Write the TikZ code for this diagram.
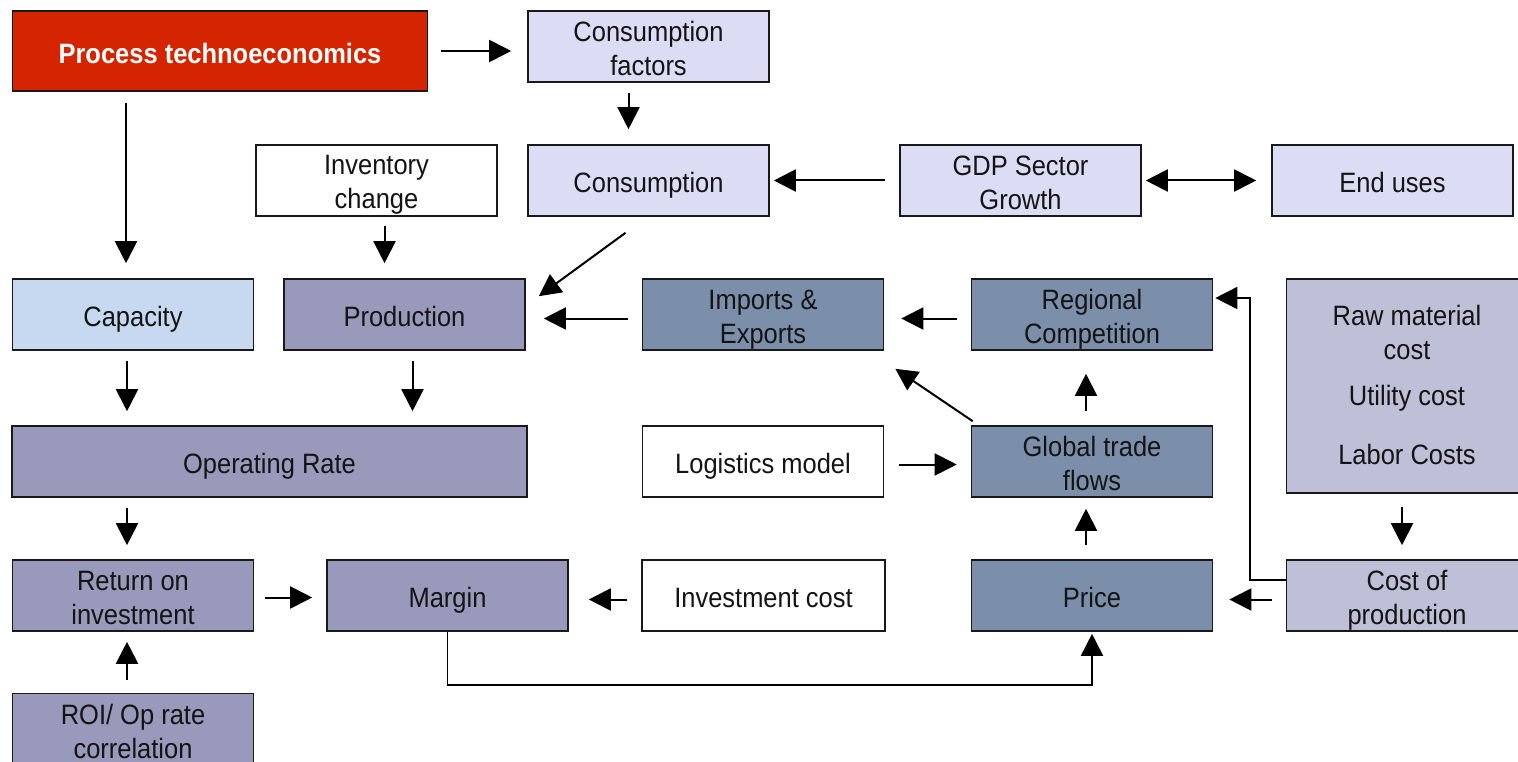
\documentclass[tikz,border=0pt]{standalone}
\usepackage{fontspec}
\setmainfont{Liberation Sans}[FakeStretch=0.91]
\usetikzlibrary{arrows.meta,calc}
\definecolor{cred}{RGB}{212,37,0}
\definecolor{clav}{RGB}{220,220,244}
\definecolor{cblue}{RGB}{198,217,241}
\definecolor{cpurp}{RGB}{153,153,187}
\definecolor{cslate}{RGB}{123,143,171}
\definecolor{cgrey}{RGB}{191,191,215}
\definecolor{cline}{RGB}{25,25,25}
\newcommand{\bt}[2][-5.5pt]{\raisebox{#1}[\height][\depth]{\begin{tabular}{@{}c@{}}#2\end{tabular}}}
\tikzset{
  box/.style={draw=cline, line width=1.6pt, minimum width=241pt, minimum height=71pt,
    inner sep=0pt, text=black!92, font=\fontsize{28}{34}\selectfont},
  arr/.style={draw=black, line width=2pt, -{Triangle[length=22pt,width=22pt]}},
  darr/.style={draw=black, line width=2pt, {Triangle[length=22pt,width=22pt]}-{Triangle[length=22pt,width=22pt]}}
}
\begin{document}
\begin{tikzpicture}[x=1pt,y=-1pt]
\useasboundingbox[fill=white] (0,0) rectangle (1518,762);
% nodes
\node[box, fill=cred, minimum width=415pt, minimum height=80pt, text=white, font=\fontsize{28}{34}\selectfont\bfseries] (proc) at (220,51) {\bt{Process technoeconomics}};
\node[box, fill=clav] (cf) at (648.5,46.5) {\bt{Consumption\\factors}};
\node[box, fill=white] (inv) at (376.5,180.5) {\bt[-4.5pt]{Inventory\\change}};
\node[box, fill=clav] (cons) at (648.5,180.5) {\bt{Consumption}};
\node[box, fill=clav] (gdp) at (1020.5,180.5) {\bt{GDP Sector\\Growth}};
\node[box, fill=clav] (end) at (1392.5,180.5) {\bt{End uses}};
\node[box, fill=cblue] (cap) at (133,314.5) {\bt{Capacity}};
\node[box, fill=cpurp] (prod) at (404.5,314.5) {\bt{Production}};
\node[box, fill=cslate] (imp) at (763,314.5) {\bt{Imports \&\\Exports}};
\node[box, fill=cslate] (reg) at (1092,314.5) {\bt{Regional\\Competition}};
\node[box, fill=cgrey, minimum height=214pt] (raw) at (1407,386) {\bt[-2pt]{Raw material\\cost\\[12pt]Utility cost\\[25pt]Labor Costs}};
\node[box, fill=cpurp, minimum width=515pt] (op) at (269.5,461.5) {\bt{Operating Rate}};
\node[box, fill=white] (log) at (763,461.5) {\bt{Logistics model}};
\node[box, fill=cslate] (glob) at (1092,461.5) {\bt{Global trade\\flows}};
\node[box, fill=cpurp] (roi) at (133,595.5) {\bt{Return on\\investment}};
\node[box, fill=cpurp] (mar) at (447.5,595.5) {\bt{Margin}};
\node[box, fill=white, minimum width=243pt] (invc) at (763.5,595.5) {\bt{Investment cost}};
\node[box, fill=cslate] (price) at (1092,595.5) {\bt{Price}};
\node[box, fill=cgrey] (cost) at (1407,595.5) {\bt{Cost of\\production}};
\node[box, fill=cpurp] (corr) at (133,729) {\bt{ROI/ Op rate\\correlation}};
% connectors
\draw[arr, shorten <=13pt, shorten >=16pt] (proc.east) -- (proc.east -| cf.west);
\draw[arr, shorten <=11pt, shorten >=15pt] ([xshift=-7pt]proc.south -| cap.north) -- ([xshift=-7pt]cap.north);
\draw[arr, shorten <=10pt, shorten >=15pt] ([xshift=-20pt]cf.south) -- ([xshift=-20pt]cons.north);
\draw[arr, shorten <=9pt, shorten >=15pt] ([xshift=8pt]inv.south) -- ([xshift=8pt]inv.south |- prod.north);
\draw[arr, shorten <=14pt, shorten >=4pt] (gdp.west) -- (cons.east);
\draw[darr, shorten <=4pt, shorten >=15pt] (gdp.east) -- (end.west);
\draw[arr] ([xshift=-23pt,yshift=-16pt]cons.south) -- ([xshift=13pt,yshift=-18pt]prod.north east);
\draw[arr, shorten <=14pt, shorten >=18pt] ([yshift=-4pt]imp.west) -- ([yshift=-4pt]imp.west -| prod.east);
\draw[arr, shorten <=14pt, shorten >=17pt] ([yshift=-4pt]reg.west) -- ([yshift=-4pt]imp.east);
\draw[arr, shorten <=10pt, shorten >=14pt] ([xshift=-6pt]cap.south) -- ([xshift=-6pt]cap.south |- op.north);
\draw[arr, shorten <=10pt, shorten >=14pt] ([xshift=8pt]prod.south) -- ([xshift=8pt]prod.south |- op.north);
\draw[arr] ([xshift=2pt,yshift=4pt]glob.north west) -- ([xshift=11pt,yshift=-18pt]imp.south east);
\draw[arr, shorten <=14pt, shorten >=23pt] ([xshift=-6pt]glob.north) -- ([xshift=-6pt]reg.south);
\draw[arr, shorten <=15pt, shorten >=14pt] ([yshift=-3pt]log.east) -- ([yshift=-3pt]glob.west);
\draw[arr, shorten <=14pt, shorten >=11pt] ([xshift=-6pt]price.north) -- ([xshift=-6pt]glob.south);
\draw[arr, shorten <=13pt, shorten >=14pt] ([xshift=-5pt]raw.south) -- ([xshift=-5pt]cost.north);
\draw[arr, shorten <=14pt, shorten >=16pt] ([yshift=-4pt]cost.west) -- ([yshift=-4pt]price.east);
\draw[arr, line width=1.6pt, shorten >=2pt] ([yshift=15.5pt]cost.west) -- ++(-36,0) |- ([yshift=16.5pt]reg.east);
\draw[arr, shorten <=10pt, shorten >=14pt] ([xshift=-6pt]roi.north |- op.south) -- ([xshift=-6pt]roi.north);
\draw[arr, shorten <=11pt, shorten >=14pt] ([yshift=-2pt]roi.east) -- ([yshift=-2pt]mar.west);
\draw[arr, shorten <=14pt, shorten >=20pt] ([yshift=-4pt]invc.west) -- ([yshift=-4pt]mar.east);
\draw[arr, shorten <=13pt, shorten >=10pt] ([xshift=-6pt]corr.north) -- ([xshift=-6pt]roi.south);
\draw[arr, line width=1.6pt, shorten >=2pt] (mar.south) -- ++(0,53) -| (price.south);
\end{tikzpicture}
\end{document}
